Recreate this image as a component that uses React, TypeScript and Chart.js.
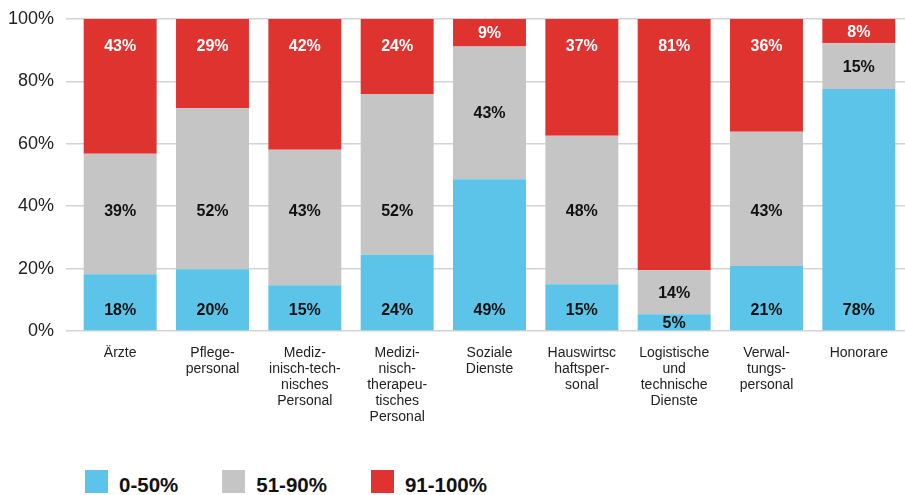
import React, { useEffect, useRef } from "react";
import { Chart, registerables } from "chart.js";

Chart.register(...registerables);

const categories: (string | string[])[] = [
  "Ärzte",
  ["Pflege-", "personal"],
  ["Mediz-", "inisch-tech-", "nisches", "Personal"],
  ["Medizi-", "nisch-", "therapeu-", "tisches", "Personal"],
  ["Soziale", "Dienste"],
  ["Hauswirtsc", "haftsper-", "sonal"],
  ["Logistische", "und", "technische", "Dienste"],
  ["Verwal-", "tungs-", "personal"],
  "Honorare",
];

const seriesNames = ["0-50%", "51-90%", "91-100%"];
const low = [18.2, 19.8, 14.7, 24.4, 48.6, 15.0, 5.4, 20.8, 77.6];
const mid = [38.6, 51.6, 43.4, 51.6, 42.6, 47.6, 14.1, 43.1, 14.6];
const high = [43.2, 28.6, 41.9, 24.0, 8.8, 37.4, 80.5, 36.1, 7.8];
const yTicks = [0, 20, 40, 60, 80, 100];

const colors = ["#5bc4e8", "#c5c5c5", "#df3330"];
const labelColors = ["#111111", "#111111", "#ffffff"];
// preferred label level (axis value) per series
const labelAnchors = [7.0, 38.5, 91.5];

const segmentLabels = {
  id: "segmentLabels",
  afterDatasetsDraw(chart: any) {
    const ctx = chart.ctx;
    const yScale = chart.scales.y;
    ctx.save();
    ctx.font = "bold 16px 'Liberation Sans', Arial, sans-serif";
    ctx.textAlign = "center";
    ctx.textBaseline = "middle";
    chart.data.datasets.forEach((ds: any, di: number) => {
      const meta = chart.getDatasetMeta(di);
      const anchor = yScale.getPixelForValue(labelAnchors[di]);
      meta.data.forEach((el: any, i: number) => {
        const top = Math.min(el.y, el.base);
        const bottom = Math.max(el.y, el.base);
        const m = 12;
        let y = (top + bottom) / 2;
        if (anchor >= top + m && anchor <= bottom - m) y = anchor;
        ctx.fillStyle = labelColors[di];
        ctx.fillText(Math.round(ds.data[i]) + "%", el.x, y + 1);
      });
    });
    ctx.restore();
  },
};

export default function App() {
  const ref = useRef<HTMLCanvasElement>(null);
  useEffect(() => {
    document.body.style.margin = "0";
    const chart = new Chart(ref.current!, {
      type: "bar",
      data: {
        labels: categories,
        datasets: [low, mid, high].map((d, i) => ({
          label: seriesNames[i],
          data: d,
          backgroundColor: colors[i],
          borderWidth: 0,
          categoryPercentage: 1,
          barPercentage: 0.79,
        })),
      },
      options: {
        animation: false,
        responsive: false,
        maintainAspectRatio: false,
        layout: { padding: { left: 8, right: 0, top: 19, bottom: 9 } },
        plugins: { legend: { display: false }, tooltip: { enabled: false } },
        scales: {
          x: {
            stacked: true,
            grid: { display: false },
            border: { display: false },
            ticks: {
              maxRotation: 0,
              autoSkip: false,
              padding: 6,
              color: "#222",
              font: { family: "'Liberation Sans', Arial, sans-serif", size: 14, lineHeight: 16 / 14 },
            },
          },
          y: {
            stacked: true,
            min: 0,
            max: 100,
            afterBuildTicks: (s: any) => {
              s.ticks = yTicks.map((v) => ({ value: v }));
            },
            afterFit: (s: any) => {
              s.width = 66;
              s.paddingTop = 0;
              s.paddingBottom = 0;
            },
            grid: { color: "#d3d3d3", lineWidth: 1.5, tickLength: 8, drawTicks: true },
            border: { display: false },
            ticks: {
              padding: 12,
              color: "#222",
              font: { family: "'Liberation Sans', Arial, sans-serif", size: 18 },
              callback: (v: any) => v + "%",
            },
          },
        },
      },
      plugins: [segmentLabels],
    });
    return () => chart.destroy();
  }, []);

  return (
    <div style={{ position: "relative", width: 905, height: 495, overflow: "hidden", background: "#fff" }}>
      <canvas ref={ref} width={905} height={440} style={{ display: "block", width: 905, height: 440 }} />
      <div
        style={{
          position: "absolute",
          left: 85,
          top: 470,
          display: "flex",
          gap: 44,
          fontFamily: "'Liberation Sans', Arial, sans-serif",
          fontWeight: "bold",
          fontSize: 20.5,
          color: "#111",
        }}
      >
        {seriesNames.map((n, i) => (
          <div key={n} style={{ display: "flex", alignItems: "flex-start" }}>
            <div style={{ width: 23, height: 23, background: colors[i] }} />
            <div style={{ marginLeft: 11, lineHeight: "23px", marginTop: 3 }}>{n}</div>
          </div>
        ))}
      </div>
    </div>
  );
}
